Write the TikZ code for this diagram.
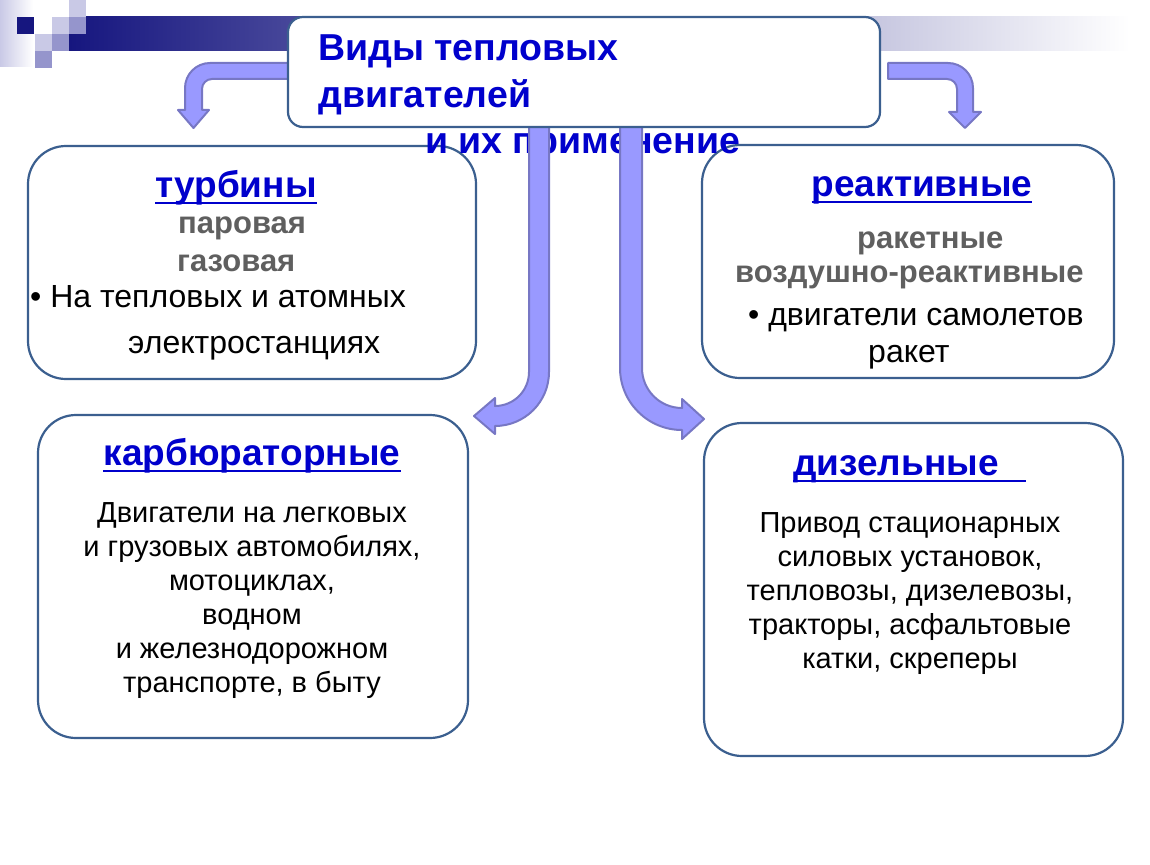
\documentclass[tikz,border=0pt]{standalone}
\usepackage{fontspec}
\setmainfont{Liberation Sans}
\usepackage{tikz}
\usetikzlibrary{calc, positioning}
\definecolor{headblue}{HTML}{0000CC}
\definecolor{softgray}{HTML}{5F5F5F}
\definecolor{boxline}{HTML}{3B5F8F}
\definecolor{arrowfill}{HTML}{9999FF}
\definecolor{arrowline}{HTML}{7777C4}
\definecolor{barnavy}{HTML}{16167F}
\definecolor{lightsq}{HTML}{C9C9E6}
\definecolor{midsq}{HTML}{9595CC}
\tikzset{
kind/.style={draw=boxline, line width=2.2pt, rounded corners=38pt, fill=white, inner sep=0pt},
titlebox/.style={draw=boxline, line width=2.2pt, rounded corners=15pt, fill=white, inner sep=0pt},
head/.style={text=headblue, font=\fontsize{37}{44}\selectfont\bfseries, inner sep=0pt},
titletext/.style={text=headblue, font=\fontsize{37.5}{47}\selectfont\bfseries, inner sep=0pt},
sub/.style={text=softgray, font=\fontsize{31}{36}\selectfont\bfseries, inner sep=0pt},
bigbody/.style={font=\fontsize{32}{38}\selectfont, inner sep=0pt},
body/.style={font=\fontsize{29}{34}\selectfont, inner sep=0pt},
uline/.style={headblue, line width=2.4pt},
bent/.style={fill=arrowfill, draw=arrowline, line width=2pt, line join=round}
}

\begin{document}
\begin{tikzpicture}[x=1pt, y=-1pt]
\useasboundingbox (0,0) rectangle (1150,864);
% ---- corner squares and bar
\shade[left color=lightsq, right color=white] (0,0) rectangle (33,67);
\shade[left color=barnavy, right color=white] (69,17) rectangle (1130,51);
\fill[barnavy] (17,17) rectangle (34,34);
\fill[lightsq] (52,17) rectangle (69,34);
\fill[lightsq] (69,0) rectangle (86,17);
\fill[midsq] (69,17) rectangle (86,34);
\fill[lightsq] (35,34) rectangle (52,51);
\fill[midsq] (52,34) rectangle (69,51);
\fill[midsq] (35,51) rectangle (52,68);
% ---- boxes
\node[kind, minimum width=448pt, minimum height=233pt] (turb) at (252,262.5) {};
\node[kind, minimum width=412pt, minimum height=233pt] (react) at (908,261.5) {};
\node[kind, minimum width=430pt, minimum height=323pt] (carb) at (253,576.5) {};
\node[kind, minimum width=419pt, minimum height=333pt] (dies) at (913.5,589.5) {};
% ---- turbines
\node[head, anchor=base] (turbH) at (236,197) {турбины};
\node[sub, anchor=base west] (steam) at (178,233) {паровая};
\node[sub, anchor=base west] (gas) at (177,271) {газовая};
\node[bigbody, anchor=base west] (turbA) at (30,307) {• На тепловых и атомных};
\node[bigbody, anchor=base west] (turbB) at (128,353) {электростанциях};
% ---- jets
\node[head, anchor=base] (reactH) at (922,196) {реактивные};
\node[sub, anchor=base west] (rocket) at (857,248) {ракетные};
\node[sub, anchor=base west] (air) at (735,282) {воздушно-реактивные};
\node[bigbody, anchor=base west] (reactA) at (748,325) {• двигатели самолетов};
\node[bigbody, anchor=base west] (reactB) at (868,362) {ракет};
% ---- carburettor
\node[head, anchor=base] (carbH) at (252,465) {карбюраторные};
\node[body, align=center, anchor=base] (carbT) at (252,692) {Двигатели на легковых\\и грузовых автомобилях,\\мотоциклах,\\водном\\и железнодорожном\\транспорте, в быту};
% ---- diesel
\node[head, anchor=base west] (diesH) at (793,475) {дизельные};
\node[body, align=center, anchor=base] (diesT) at (910,668) {Привод стационарных\\силовых установок,\\тепловозы, дизелевозы,\\тракторы, асфальтовые\\катки, скреперы};
% ---- underlines
\draw[uline] ($(turbH.base west)+(0,6)$) -- ($(turbH.base east)+(0,6)$);
\draw[uline] ($(reactH.base west)+(0,6)$) -- ($(reactH.base east)+(0,6)$);
\draw[uline] ($(carbH.base west)+(0,6)$) -- ($(carbH.base east)+(0,6)$);
\draw[uline] ($(diesH.base west)+(0,6)$) -- ($(diesH.base east)+(27,6)$);
% ---- third title line, partly under the arrows
\node[titletext, anchor=base west] (use) at (425,153) {и их применение};
% ---- arrows
\draw[bent] (529,110) -- (529,372) arc[start angle=0, end angle=90, radius=34]
  -- (495,398) -- (474,416) -- (495,434) -- (495,426)
  arc[start angle=90, end angle=0, radius=54] -- (549,110) -- cycle;
\draw[bent] (620,110) -- (620,368) arc[start angle=180, end angle=90, radius=62]
  -- (682,439) -- (704,419) -- (682,399) -- (682,408)
  arc[start angle=90, end angle=180, radius=40] -- (642,110) -- cycle;
\draw[bent] (300,63) -- (210,63) arc[start angle=270, end angle=180, radius=25]
  -- (185,110) -- (178,110) -- (193.5,128) -- (209,110) -- (202,110) -- (202,89)
  arc[start angle=180, end angle=270, radius=10] -- (300,79) -- cycle;
\draw[bent] (888,63) -- (948,63) arc[start angle=270, end angle=360, radius=25]
  -- (973,112) -- (981,112) -- (965,128) -- (949,112) -- (957,112) -- (957,89)
  arc[start angle=0, end angle=-90, radius=10] -- (888,79) -- cycle;
% ---- title
\node[titlebox, minimum width=592pt, minimum height=110pt] (title) at (584,72) {};
\node[titletext, align=left, anchor=base west] (titleT) at (318,107) {Виды тепловых\\двигателей};
\end{tikzpicture}
\end{document}
